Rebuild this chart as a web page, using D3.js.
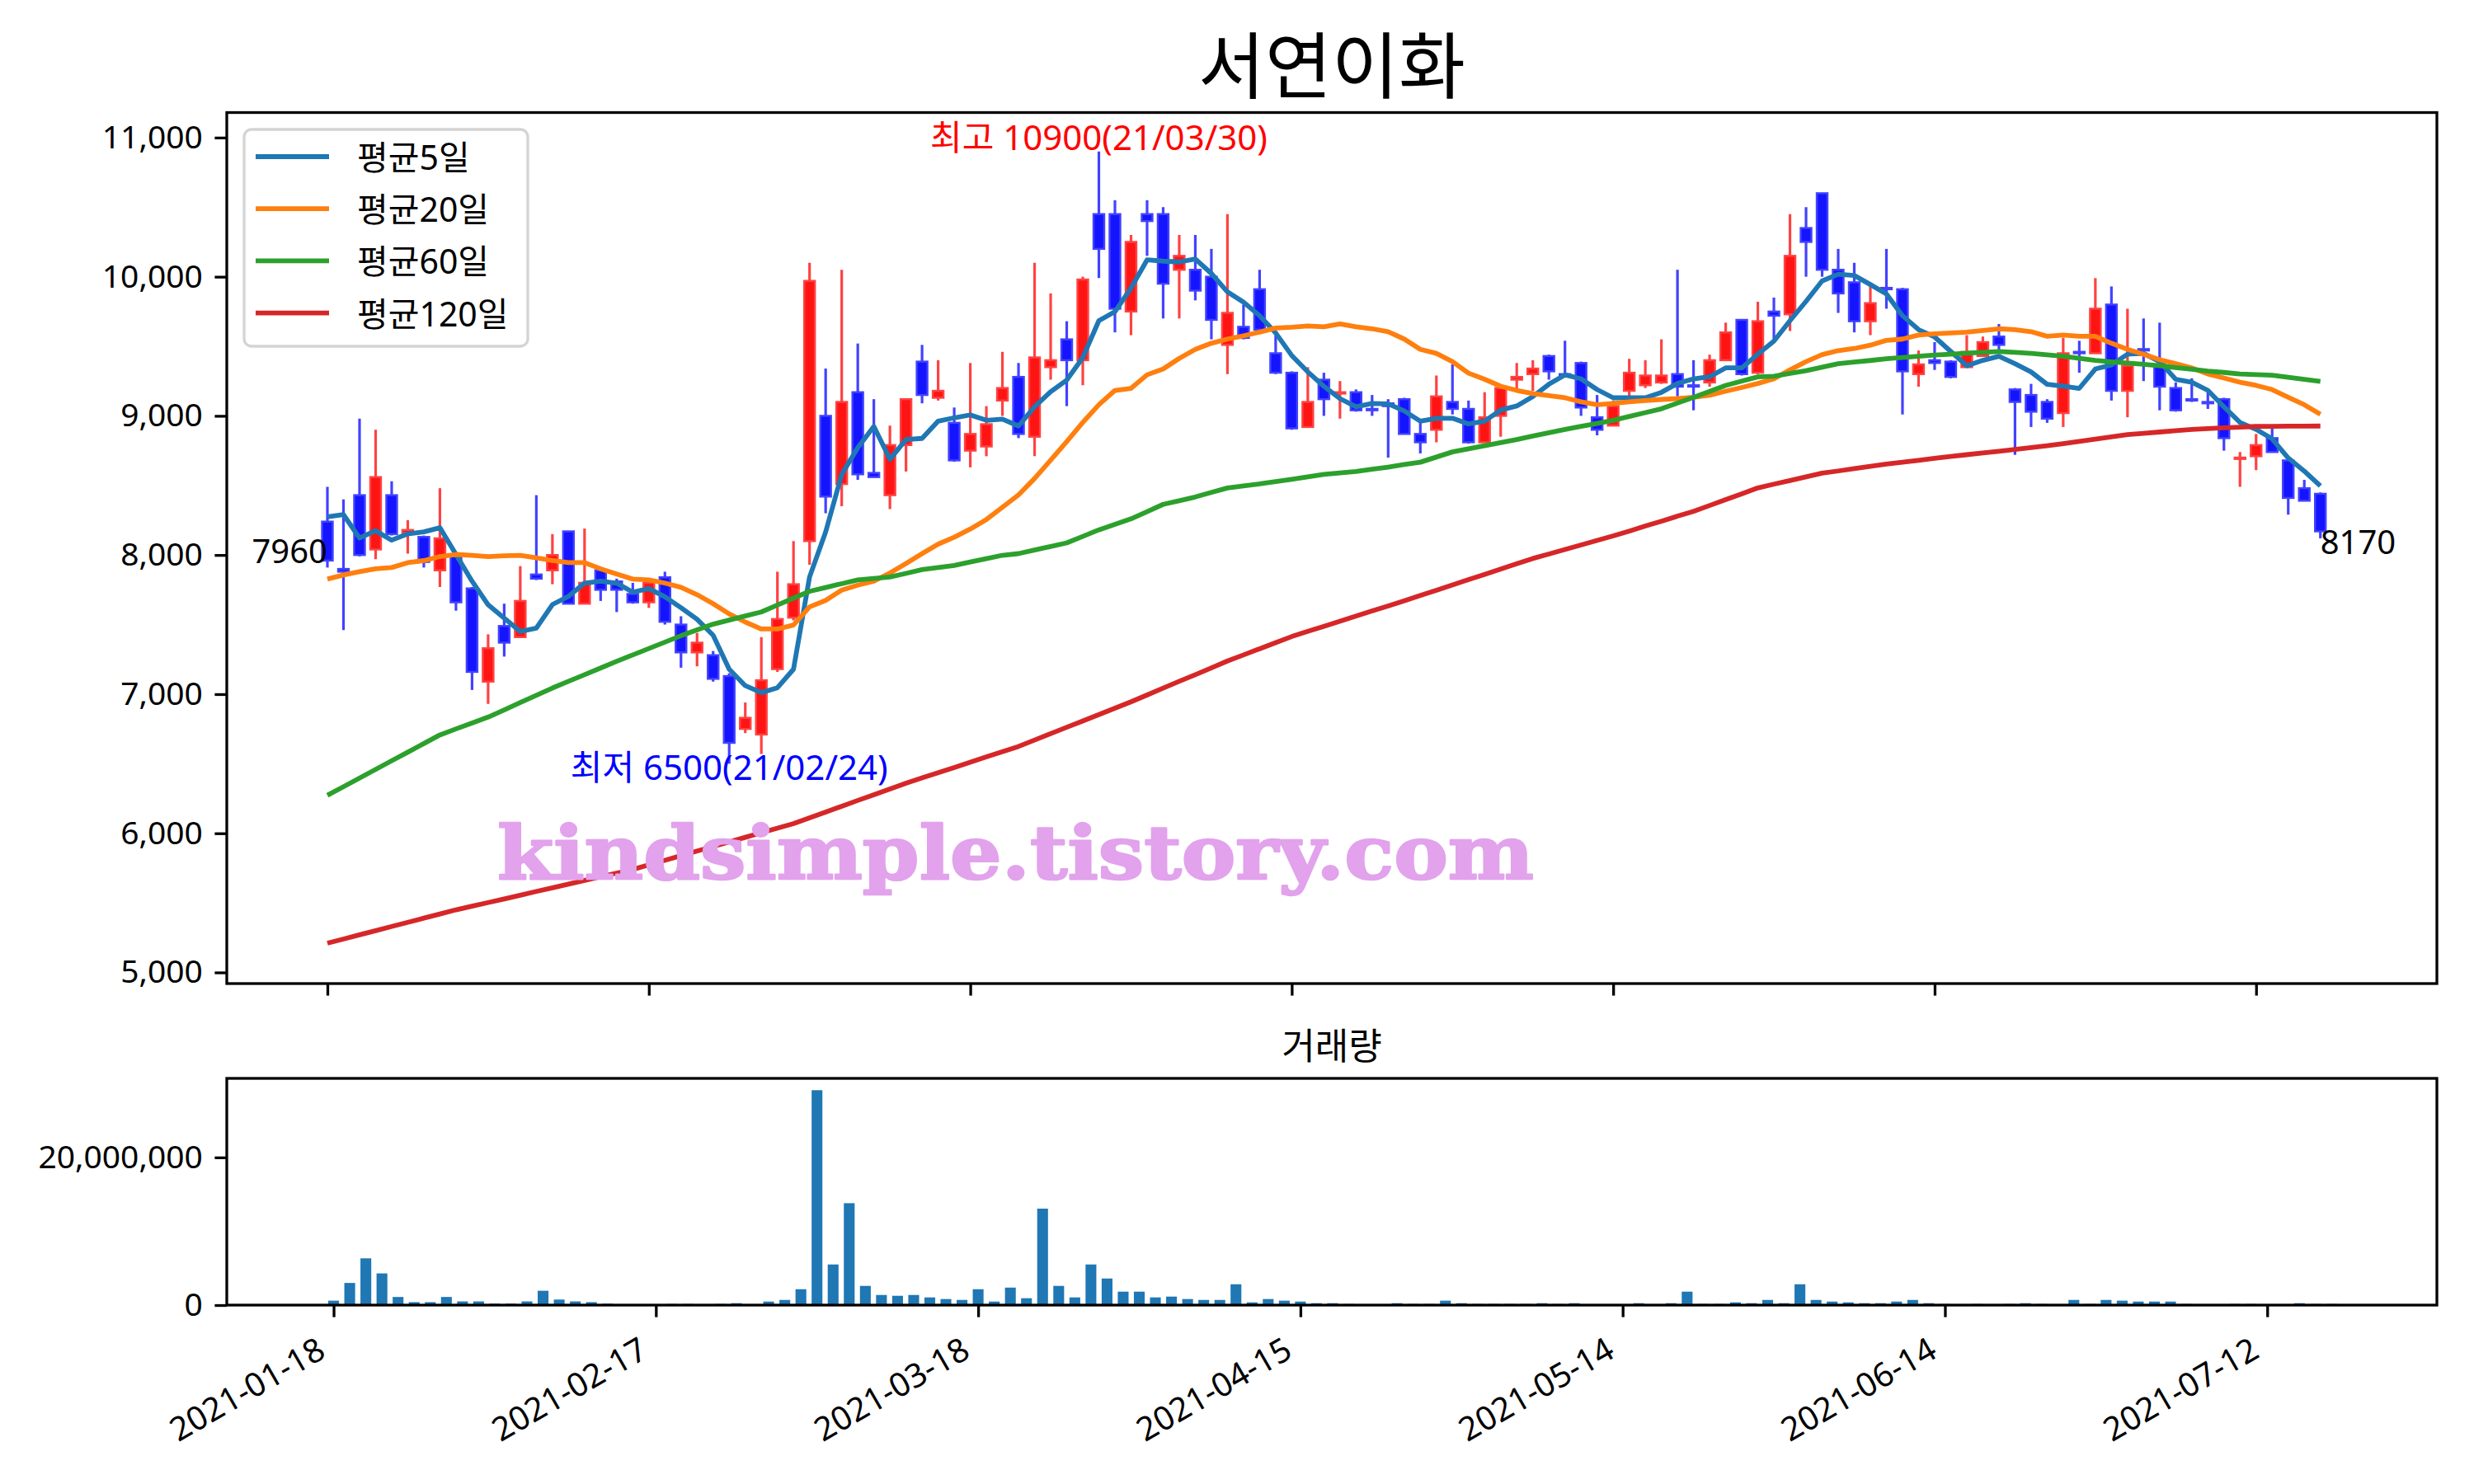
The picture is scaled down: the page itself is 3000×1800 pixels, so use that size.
<!DOCTYPE html>
<html>
<head>
<meta charset="utf-8">
<script src="https://cdn.jsdelivr.net/npm/d3@7"></script>
<style>
  body { margin: 0; background: #fff; }
</style>
</head>
<body>
<svg id="chart"></svg>
<script>
// ---- data ----
const dates = [
  "2021-01-18","2021-01-19","2021-01-20","2021-01-21","2021-01-22","2021-01-25","2021-01-26","2021-01-27","2021-01-28","2021-01-29",
  "2021-02-01","2021-02-02","2021-02-03","2021-02-04","2021-02-05","2021-02-08","2021-02-09","2021-02-10","2021-02-15","2021-02-16",
  "2021-02-17","2021-02-18","2021-02-19","2021-02-22","2021-02-23","2021-02-24","2021-02-25","2021-02-26","2021-03-02","2021-03-03",
  "2021-03-04","2021-03-05","2021-03-08","2021-03-09","2021-03-10","2021-03-11","2021-03-12","2021-03-15","2021-03-16","2021-03-17",
  "2021-03-18","2021-03-19","2021-03-22","2021-03-23","2021-03-24","2021-03-25","2021-03-26","2021-03-29","2021-03-30","2021-03-31",
  "2021-04-01","2021-04-02","2021-04-05","2021-04-06","2021-04-07","2021-04-08","2021-04-09","2021-04-12","2021-04-13","2021-04-14",
  "2021-04-15","2021-04-16","2021-04-19","2021-04-20","2021-04-21","2021-04-22","2021-04-23","2021-04-26","2021-04-27","2021-04-28",
  "2021-04-29","2021-04-30","2021-05-03","2021-05-04","2021-05-06","2021-05-07","2021-05-10","2021-05-11","2021-05-12","2021-05-13",
  "2021-05-14","2021-05-17","2021-05-18","2021-05-20","2021-05-21","2021-05-24","2021-05-25","2021-05-26","2021-05-27","2021-05-28",
  "2021-05-31","2021-06-01","2021-06-02","2021-06-03","2021-06-04","2021-06-07","2021-06-08","2021-06-09","2021-06-10","2021-06-11",
  "2021-06-14","2021-06-15","2021-06-16","2021-06-17","2021-06-18","2021-06-21","2021-06-22","2021-06-23","2021-06-24","2021-06-25",
  "2021-06-28","2021-06-29","2021-06-30","2021-07-01","2021-07-02","2021-07-05","2021-07-06","2021-07-07","2021-07-08","2021-07-09",
  "2021-07-12","2021-07-13","2021-07-14","2021-07-15","2021-07-16"
];

const open = [
  8240,7900,8430,8040,8430,8160,8130,7890,7990,7760, 7090,7490,7410,7860,7890,8170,7650,7890,7810,7720,
  7660,7840,7500,7300,7280,7130,6750,6710,7180,7550, 8100,9000,8510,9170,8590,8430,8790,9390,9130,8950,
  8750,8780,9110,9280,8850,9350,9550,9400,10450,10450, 9750,10450,10450,10050,10050,10000,9510,9640,9910,9450,
  9310,8920,9260,9160,9170,9050,9090,9120,8870,8900, 9100,9050,8810,9000,9260,9300,9430,9300,9380,8990,
  8930,9180,9220,9240,9300,9220,9240,9400,9690,9310, 9750,9730,10350,10600,10050,9960,9680,9920,9910,9300,
  9400,9390,9350,9430,9570,9190,9150,9100,9020,9460, 9450,9800,9180,9480,9370,9200,9120,9100,9120,8690,
  8710,8840,8680,8480,8440
];
const high = [
  8490,8400,8980,8900,8530,8250,8140,8480,8000,7770, 7430,7650,7920,8430,8150,8170,8190,7900,7830,7800,
  7810,7880,7560,7440,7310,7150,6940,7410,7880,8100, 10100,9340,10050,9520,9120,8930,9120,9510,9400,9060,
  9380,9070,9460,9380,10100,9880,9680,10000,10900,10550, 10300,10550,10500,10300,10300,10200,10450,9800,10050,9580,
  9320,9350,9310,9250,9190,9150,9120,9130,8950,9290, 9370,9110,9170,9210,9380,9400,9440,9540,9390,9150,
  9110,9410,9400,9550,10050,9400,9440,9670,9690,9820, 9850,10450,10500,10600,10200,10100,9940,10200,9920,9470,
  9530,9400,9580,9570,9660,9200,9230,9120,9560,9540, 9990,9930,9770,9700,9670,9240,9270,9180,9130,8740,
  8870,8920,8690,8540,8450
];
const low = [
  7910,7460,7990,7970,8140,8010,7910,7770,7600,7030, 6930,7270,7410,7820,7790,7650,7650,7670,7590,7650,
  7620,7500,7190,7200,7090,6500,6720,6570,7160,7530, 7930,8300,8350,8540,8560,8330,8600,9090,9110,8670,
  8630,8710,9000,8840,8710,9260,9070,9220,9990,9600, 9580,10150,9700,9700,9830,9550,9300,9550,9610,9300,
  8900,8920,9000,8980,9030,9000,8700,8870,8730,8810, 9010,8800,8810,8850,9180,9180,9260,9280,9000,8860,
  8930,9140,9200,9230,9140,9040,9210,9400,9290,9300, 9550,9610,10000,10000,9740,9600,9580,9770,9010,9210,
  9330,9270,9350,9430,9470,8720,8920,8950,8920,9310, 9450,9110,8990,9250,9040,9030,9100,9050,8750,8490,
  8610,8740,8290,8390,8120
];
const close = [
  7960,7880,8000,8560,8150,8180,7950,8120,7660,7160, 7330,7370,7670,7830,8000,7650,7800,7750,7750,7660,
  7800,7520,7300,7370,7110,6650,6830,7100,7540,7790, 9970,8420,9100,8580,8560,8790,9120,9150,9180,8680,
  8870,8940,9200,8870,9420,9400,9400,9980,10200,9770, 10250,10400,9950,10150,9900,9690,9740,9560,9620,9310,
  8910,9100,9120,9170,9040,9040,9070,8870,8810,9140, 9050,8810,8990,9200,9280,9340,9320,9290,9060,8900,
  9070,9310,9290,9290,9210,9210,9400,9600,9300,9680, 9720,10150,10250,10050,9880,9680,9810,9910,9320,9370,
  9380,9280,9460,9530,9510,9100,9030,8980,9450,9450, 9770,9180,9360,9470,9210,9040,9110,9090,8840,8700,
  8790,8740,8410,8390,8170
];
const volume = [
  600000,3000000,6330000,4290000,1100000,400000,400000,1100000,500000,500000,
  200000,200000,500000,1940000,750000,500000,400000,200000,30000,30000,
  30000,150000,150000,30000,150000,260000,30000,480000,700000,2150000,
  29100000,5500000,13800000,2600000,1370000,1260000,1370000,1040000,820000,700000,
  2150000,480000,2370000,930000,13060000,2600000,1040000,5500000,3600000,1820000,
  1820000,1040000,1150000,820000,700000,700000,2820000,370000,820000,600000,
  480000,260000,260000,150000,50000,50000,260000,150000,150000,600000,
  260000,150000,150000,150000,150000,260000,150000,260000,30000,30000,
  30000,260000,30000,260000,1820000,150000,150000,370000,260000,700000,
  260000,2820000,700000,480000,370000,260000,260000,480000,700000,260000,
  150000,30000,150000,30000,150000,260000,150000,30000,700000,150000,
  700000,600000,480000,480000,480000,150000,30000,30000,150000,150000,
  30000,30000,260000,150000,150000
];

const ma5 = [
  8275,8290,8122,8175,8107,8152,8166,8196,8004,7812, 7642,7547,7450,7474,7644,7703,7798,7812,7798,7733,
  7759,7700,7621,7538,7423,7179,7061,7011,7046,7179, 7842,8166,8579,8771,8924,8688,8830,8838,8962,8986,
  9007,8968,8977,8927,9065,9174,9257,9419,9684,9749, 9919,10121,10112,10106,10127,10023,9891,9817,9720,9596,
  9434,9316,9213,9124,9065,9089,9086,9036,8962,8983, 8983,8942,8962,9042,9071,9139,9227,9295,9266,9189,
  9130,9130,9130,9169,9233,9266,9281,9345,9345,9443, 9537,9684,9823,9970,10018,10009,9944,9876,9720,9620,
  9567,9463,9360,9399,9428,9375,9316,9227,9213,9198, 9337,9366,9443,9449,9390,9263,9242,9183,9065,8953,
  8903,8835,8697,8603,8496
];
const ma20 = [
  7827,7857,7880,7901,7910,7945,7960,7989,8004,7998, 7989,7995,7998,7980,7960,7945,7945,7901,7863,7827,
  7821,7798,7768,7715,7650,7577,7518,7468,7468,7497, 7627,7674,7748,7783,7812,7871,7939,8010,8078,8128,
  8187,8255,8343,8432,8550,8682,8815,8953,9080,9183, 9198,9295,9337,9413,9478,9522,9552,9575,9602,9631,
  9637,9646,9640,9661,9640,9626,9605,9552,9478,9449, 9390,9307,9263,9213,9183,9160,9145,9130,9101,9080,
  9089,9101,9110,9118,9124,9133,9148,9177,9204,9233, 9266,9331,9390,9440,9469,9484,9508,9543,9552,9581,
  9590,9596,9602,9614,9626,9620,9605,9572,9581,9572, 9572,9522,9478,9443,9404,9375,9345,9301,9272,9242,
  9219,9189,9133,9080,9012
];
const ma60 = [
  6273,6335,6397,6459,6521,6583,6645,6707,6750,6792, 6835,6887,6940,6992,7044,7092,7140,7188,7236,7282,
  7328,7374,7420,7462,7503,7532,7562,7591,7640,7690, 7739,7766,7794,7821,7832,7842,7868,7895,7910,7925,
  7950,7974,7998,8010,8036,8061,8087,8134,8181,8220, 8260,8312,8364,8390,8417,8450,8482,8497,8511,8528,
  8544,8562,8579,8590,8600,8616,8632,8650,8667,8704, 8741,8763,8785,8808,8830,8855,8879,8903,8925,8946,
  8968,8996,9023,9051,9092,9133,9176,9219,9250,9280, 9285,9305,9325,9350,9375,9387,9398,9410,9419,9428,
  9437,9443,9450,9457,9463,9456,9449,9439,9428,9414, 9399,9389,9380,9370,9360,9347,9335,9322,9312,9301,
  9297,9292,9277,9263,9248
];
const ma120 = [
  5210,5240,5270,5300,5330,5360,5390,5420,5450,5476, 5502,5528,5555,5582,5608,5635,5661,5688,5714,5740,
  5773,5806,5839,5872,5905,5938,5971,6004,6037,6070, 6111,6153,6194,6236,6277,6318,6360,6398,6436,6473,
  6511,6549,6587,6624,6670,6716,6762,6807,6853,6899, 6945,6994,7043,7092,7140,7189,7238,7282,7326,7370,
  7414,7451,7487,7524,7561,7598,7634,7671,7709,7747, 7785,7823,7861,7899,7937,7975,8007,8040,8072,8105,
  8137,8172,8208,8243,8279,8314,8356,8398,8440,8482, 8509,8535,8562,8588,8604,8621,8637,8653,8667,8681,
  8695,8708,8721,8733,8746,8759,8772,8785,8801,8817, 8833,8849,8865,8875,8884,8894,8903,8908,8914,8919,
  8924,8925,8926,8926,8927
];

const maNames = ['평균5일', '평균20일', '평균60일', '평균120일'];
const maColors = ['#1f77b4', '#ff7f0e', '#2ca02c', '#d62728'];
const priceTicks = [5000, 6000, 7000, 8000, 9000, 10000, 11000];
const volumeTicks = [0, 20000000];
const dateTickIdx = [0, 20, 40, 60, 80, 100, 120];

const chartTitle = '서연이화';
const volumeTitle = '거래량';
const watermark = 'kindsimple.tistory.com';

// ---- layout ----
const FONT = "'Noto Sans', 'Noto Sans CJK KR', sans-serif";
const W = 3000, H = 1800;
const pane = { left: 275, right: 2955, top: 136.5, bottom: 1193 };
const vpane = { left: 275, right: 2955, top: 1308, bottom: 1583 };
const tickLen = 14.6, tickPad = 14.6, spineW = 3.3, maW = 5.8;

const svg = d3.select('#chart').attr('width', W).attr('height', H)
    .style('font-family', FONT);

svg.append('rect').attr('width', W).attr('height', H).attr('fill', '#fff');

// scales
const x = d3.scaleLinear().domain([-6.26, 131.25]).range([pane.left, pane.right]);
const y = d3.scaleLinear().domain([4920, 11180]).range([pane.bottom, pane.top]);
const xv = d3.scaleLinear().domain([-6.63, 130.53]).range([vpane.left, vpane.right]);
const yv = d3.scaleLinear().domain([0, 30700000]).range([vpane.bottom, vpane.top]);

const idx = d3.range(close.length);
const upColor = { fill: '#ff1414', edge: '#ff4242' };
const downColor = { fill: '#1414ff', edge: '#4242ff' };
const col = i => close[i] >= open[i] ? upColor : downColor;

// title
svg.append('text')
    .attr('x', (pane.left + pane.right) / 2).attr('y', 112)
    .attr('text-anchor', 'middle')
    .attr('font-size', 88).attr('fill', '#000')
    .text(chartTitle);

// ---- candles ----
const bodyW = 0.667 * (x(1) - x(0));
const cg = svg.append('g');
cg.selectAll('.wick')
    .data(idx)
    .join('line')
    .attr('x1', i => x(i)).attr('x2', i => x(i))
    .attr('y1', i => y(high[i])).attr('y2', i => y(low[i]))
    .attr('stroke', i => col(i).edge)
    .attr('stroke-width', 3.2);

cg.selectAll('.body')
    .data(idx)
    .join('rect')
    .attr('x', i => x(i) - bodyW / 2)
    .attr('width', bodyW)
    .attr('y', i => y(Math.max(open[i], close[i])))
    .attr('height', i => Math.max(1.5, Math.abs(y(open[i]) - y(close[i]))))
    .attr('fill', i => col(i).fill)
    .attr('stroke', i => col(i).edge)
    .attr('stroke-width', 2.4);

// ---- moving averages ----
const line = d3.line().x((d, i) => x(i)).y(d => y(d));
[ma5, ma20, ma60, ma120].forEach((s, k) => {
    svg.append('path')
        .attr('d', line(s))
        .attr('fill', 'none')
        .attr('stroke', maColors[k])
        .attr('stroke-width', maW)
        .attr('stroke-linejoin', 'round');
});

// ---- annotations ----
const iMax = d3.maxIndex(high);
const iMin = d3.minIndex(low);
const shortDate = s => s.slice(2).replace(/-/g, '/');

svg.append('text')
    .attr('x', x(iMax)).attr('y', y(high[iMax]) - 2)
    .attr('text-anchor', 'middle')
    .attr('font-size', 42).attr('fill', '#ff0000')
    .text(`최고 ${high[iMax]}(${shortDate(dates[iMax])})`);

svg.append('text')
    .attr('x', x(iMin)).attr('y', y(low[iMin]) + 3)
    .attr('text-anchor', 'middle')
    .attr('dominant-baseline', 'central')
    .attr('font-size', 42).attr('fill', '#0000ff')
    .text(`최저 ${low[iMin]}(${shortDate(dates[iMin])})`);

svg.append('text')
    .attr('x', x(0)).attr('y', y(close[0]) + 3)
    .attr('text-anchor', 'end')
    .attr('font-size', 40).attr('fill', '#000')
    .text(close[0]);

const last = close.length - 1;
svg.append('text')
    .attr('x', x(last)).attr('y', y(close[last]) + 28)
    .attr('text-anchor', 'start')
    .attr('font-size', 40).attr('fill', '#000')
    .text(close[last]);

// watermark
svg.append('text')
    .attr('x', 603).attr('y', 1066)
    .attr('textLength', 1257).attr('lengthAdjust', 'spacingAndGlyphs')
    .attr('font-family', "'DejaVu Serif', serif")
    .attr('font-weight', 'bold')
    .attr('font-size', 90)
    .attr('fill', '#e2a2ec')
    .attr('stroke', '#e2a2ec').attr('stroke-width', 2.5)
    .attr('stroke-linejoin', 'round')
    .text(watermark);

// ---- price axes ----
function styleAxis(g) {
    g.select('.domain').remove();
    g.selectAll('.tick line').attr('stroke', '#000').attr('stroke-width', spineW);
    g.selectAll('.tick text').attr('fill', '#000').attr('font-size', 39).attr('font-family', FONT);
}

svg.append('g')
    .attr('transform', `translate(${pane.left},0)`)
    .call(d3.axisLeft(y).tickValues(priceTicks).tickFormat(d3.format(','))
        .tickSize(tickLen).tickPadding(tickPad))
    .call(styleAxis);

svg.append('g')
    .attr('transform', `translate(0,${pane.bottom})`)
    .call(d3.axisBottom(x).tickValues(dateTickIdx).tickFormat('')
        .tickSize(tickLen))
    .call(styleAxis);

// legend
const lg = svg.append('g');
lg.append('rect')
    .attr('x', 296).attr('y', 157).attr('width', 344).attr('height', 263)
    .attr('rx', 9)
    .attr('fill', '#fff').attr('fill-opacity', 0.8)
    .attr('stroke', '#d4d4d4').attr('stroke-width', 3.3);
maNames.forEach((name, k) => {
    const ly = 190 + k * 63.2;
    lg.append('line')
        .attr('x1', 310).attr('x2', 399).attr('y1', ly).attr('y2', ly)
        .attr('stroke', maColors[k]).attr('stroke-width', maW);
    lg.append('text')
        .attr('x', 433).attr('y', ly)
        .attr('dominant-baseline', 'central')
        .attr('font-size', 41).attr('fill', '#000')
        .text(name);
});

svg.append('rect')
    .attr('x', pane.left).attr('y', pane.top)
    .attr('width', pane.right - pane.left).attr('height', pane.bottom - pane.top)
    .attr('fill', 'none').attr('stroke', '#000').attr('stroke-width', spineW);

// ---- volume ----
svg.append('text')
    .attr('x', (vpane.left + vpane.right) / 2).attr('y', 1268)
    .attr('text-anchor', 'middle')
    .attr('dominant-baseline', 'central')
    .attr('font-size', 44).attr('fill', '#000')
    .text(volumeTitle);

const barW = 0.67 * (xv(1) - xv(0));
svg.append('g').selectAll('rect')
    .data(idx)
    .join('rect')
    .attr('x', i => xv(i) - barW / 2)
    .attr('width', barW)
    .attr('y', i => yv(volume[i]))
    .attr('height', i => yv(0) - yv(volume[i]))
    .attr('fill', '#1f77b4');

svg.append('g')
    .attr('transform', `translate(${vpane.left},0)`)
    .call(d3.axisLeft(yv).tickValues(volumeTicks).tickFormat(d3.format(','))
        .tickSize(tickLen).tickPadding(tickPad))
    .call(styleAxis);

svg.append('g')
    .attr('transform', `translate(0,${vpane.bottom})`)
    .call(d3.axisBottom(xv).tickValues(dateTickIdx).tickFormat(i => dates[i])
        .tickSize(tickLen))
    .call(styleAxis)
    .call(g => g.selectAll('.tick text')
        .attr('x', 0).attr('y', 0).attr('dy', 0)
        .attr('font-size', 40)
        .attr('text-anchor', 'end')
        .attr('transform', 'translate(-8,62) rotate(-30)'));

svg.append('rect')
    .attr('x', vpane.left).attr('y', vpane.top)
    .attr('width', vpane.right - vpane.left).attr('height', vpane.bottom - vpane.top)
    .attr('fill', 'none').attr('stroke', '#000').attr('stroke-width', spineW);
</script>
</body>
</html>
